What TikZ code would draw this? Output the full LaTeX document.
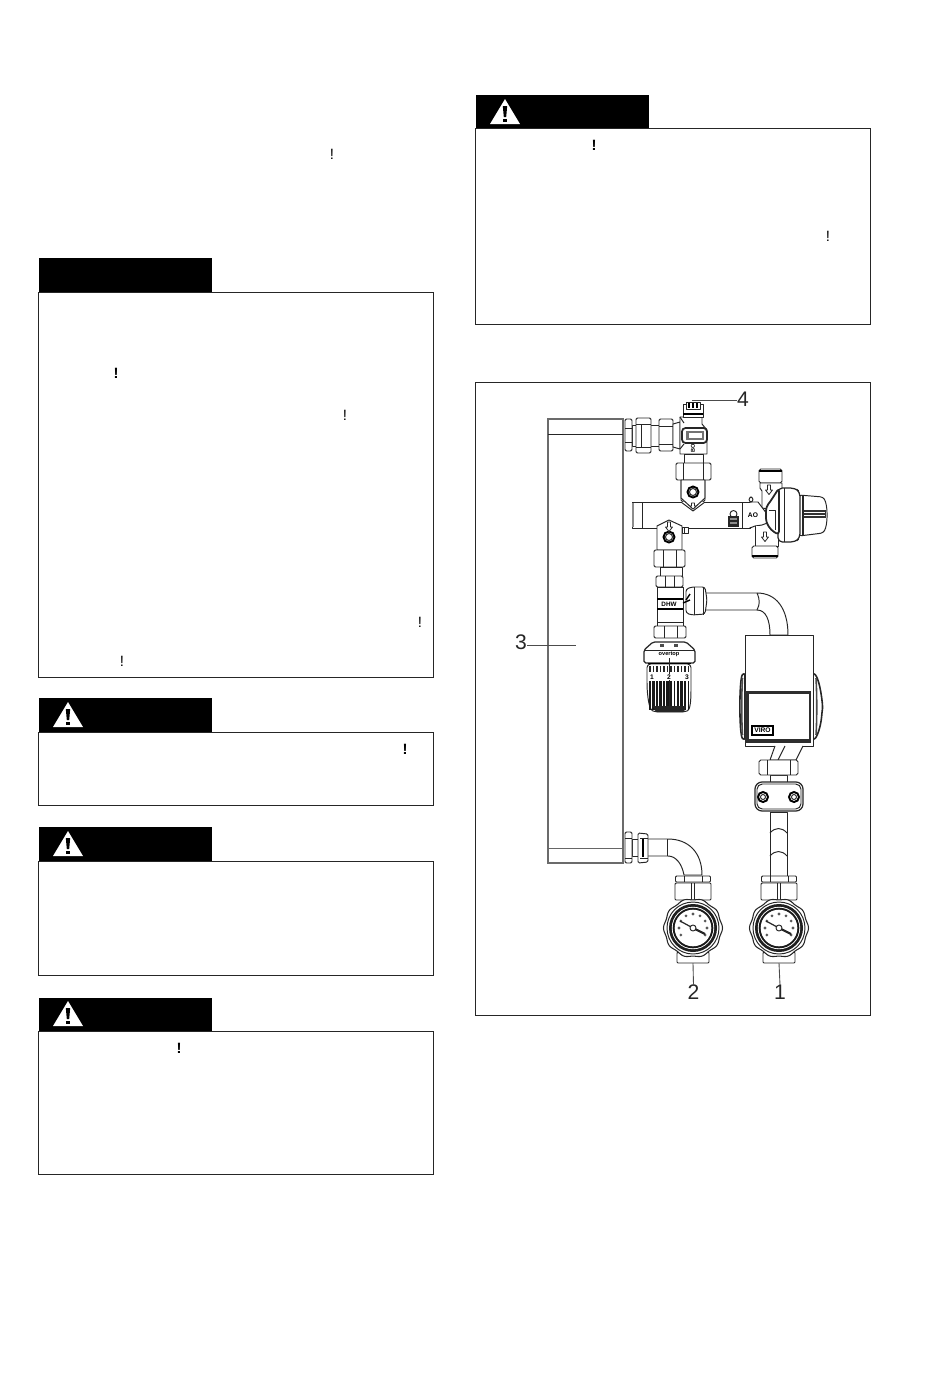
\documentclass[tikz,border=0pt]{standalone}
\usepackage{fontspec}
\setmainfont{Liberation Sans}
\tikzset{
  ln/.style={draw=black!85,line width=.55pt,line join=round},
  fw/.style={ln,fill=white},
  heavy/.style={draw=black!85,line width=1.3pt},
  box/.style={draw=black!85,line width=.5pt,fill=none},
  hdr/.style={fill=black,draw=none},
  excl/.style={font=\fontsize{8.5}{9}\selectfont,inner sep=0pt},
  exclb/.style={font=\fontsize{8.5}{9}\selectfont\bfseries,inner sep=0pt},
  numlab/.style={font=\fontsize{12}{13}\selectfont,inner sep=0pt,text=black!85},
  leader/.style={draw=black!70,line width=.5pt},
  tiny lab/.style={font=\fontsize{3.2}{3.5}\selectfont\bfseries,inner sep=0pt},
}
% warning triangle, apex at (#1,#2)
\newcommand{\warntri}[2]{%
  \begin{scope}[shift={(#1,#2)}]
    \fill[white] (0,0) -- (15,25) -- (-15,25) -- cycle;
    \fill[black] (-2.2,7) -- (2.2,7) -- (1.2,18) -- (-1.2,18) -- cycle;
    \fill[black] (-1.8,19.5) rectangle (1.8,23);
  \end{scope}}
% dial gauge centred at (#1,#2)
\newcommand{\gaugeunit}[2]{%
  \begin{scope}[shift={(#1,#2)}]
    \draw[fw,rounded corners=.6pt] (-17.5,-52) rectangle (17.5,-46);
    \draw[ln] (-9,-52) -- (-9,-46) (9,-52) -- (9,-46);
    \draw[fw,rounded corners=.6pt] (-18,-45) rectangle (18,-28);
    \draw[ln] (-1.5,-45) -- (-1.5,-28) (1.5,-45) -- (1.5,-28);
    \draw[fw,rounded corners=.6pt] (-16,24) rectangle (16,35);
    \draw[fw,line width=.6pt] plot[domain=0:360,samples=145,smooth]
      ({(28.8+.7*cos(10*\x))*cos(\x)},{(28.8+.7*cos(10*\x))*sin(\x)}) -- cycle;
    \draw[ln] (0,0) circle[radius=26];
    \fill[black!88] (0,0) circle[radius=24];
    \fill[white] (0,0) circle[radius=21.2];
    \fill[black!90] (0,0) circle[radius=20.3];
    \fill[white] (0,0) circle[radius=18.3];
    \foreach \a in {-210,-180,-150,-120,-90,-60,-30,0,30}{
      \fill[black!65] (\a:14) circle[radius=1.6];
    }
    \draw[black!85,line width=.7pt] (-13,-7) -- (0,0);
    \draw[black!85,line width=1.2pt] (0,0) -- (12,6);
    \draw[fw] (0,0) circle[radius=3];
  \end{scope}}
% outlined down arrow
\newcommand{\downarr}[2]{%
  \draw[fw,line width=.45pt,shift={(#1,#2)}] (-1.5,-5) -- (1.5,-5) -- (1.5,0) -- (3.5,0) -- (0,4.5) -- (-3.5,0) -- (-1.5,0) -- cycle;}
\begin{document}
\begin{tikzpicture}[x=0.02cm,y=-0.02cm]
\useasboundingbox (0,0) rectangle (950,1374);
\fill[white] (0,0) rectangle (950,1374);

% ---- left column frames
\fill[hdr] (38.5,258) rectangle (212,292);
\draw[box] (38.5,292) rectangle (433.5,677.5);
\fill[hdr] (38.5,698) rectangle (212,732);
\draw[box] (38.5,732) rectangle (433.5,805.5);
\warntri{68}{702}
\fill[hdr] (38.5,827) rectangle (212,861);
\draw[box] (38.5,861) rectangle (433.5,975.5);
\warntri{68}{831}
\fill[hdr] (38.5,998) rectangle (212,1031);
\draw[box] (38.5,1031) rectangle (433.5,1174.5);
\warntri{68}{1001}
% ---- right column frames
\fill[hdr] (475.5,95) rectangle (649,128);
\draw[box] (475.5,128) rectangle (870.5,324.5);
\warntri{505}{99}
\draw[box] (475.5,382) rectangle (870.5,1015.5);

% ---- stray exclamation marks
\node[excl] (e1) at (332,154.5) {!};
\node[exclb] (e2) at (116,373.5) {!};
\node[excl] (e3) at (345,415.5) {!};
\node[excl] (e4) at (420,622.5) {!};
\node[excl] (e5) at (122,661.5) {!};
\node[exclb] (e6) at (405,749.5) {!};
\node[exclb] (e7) at (594,145.5) {!};
\node[excl] (e8) at (828,236.5) {!};
\node[exclb] (e9) at (179,1048.5) {!};

% ---- radiator
\draw[draw=black!58,line width=.6pt] (548,419) rectangle (623,863);
\draw[ln] (548,434) -- (623,434);
\draw[draw=black!60,line width=.5pt] (548,848) -- (623,848);

% ---- top couplings
\draw[fw] (632,425) rectangle (659,446);
\draw[fw,rounded corners=.8pt] (625,419) rectangle (632,451);
\draw[ln] (625,428) -- (632,428) (625,442) -- (632,442);
\draw[fw,rounded corners=.8pt] (636,418) rectangle (651,453);
\draw[ln] (636,424) -- (651,424) (636,447) -- (651,447) (641,424) -- (641,447);
\draw[fw,rounded corners=.8pt] (659,419) rectangle (673,451);
\draw[ln] (659,426) -- (673,426) (659,444) -- (673,444);
\draw[fw] (673,424) -- (680,422) -- (680,449) -- (673,447) -- cycle;
% shut-off valve
\draw[fw] (684,417) -- (702,417) -- (702,424) -- (707,430) -- (707,454) -- (680,454) -- (680,417) -- cycle;
\draw[fw] (683,404) -- (703,404) -- (703,417) -- (683,417) -- cycle;
\draw[fw] (686,402) -- (700,402) -- (700,409) -- (686,409) -- cycle;
\foreach \q in {689,693,697}{\draw[black,line width=.9pt] (\q,403) -- (\q,408);}
\draw[black,line width=1pt] (683,414) -- (703,414);
\draw[fw,line width=1pt,rounded corners=2pt] (682,428) rectangle (707,443);
\fill[black!55] (686,431) rectangle (704,440);
\fill[white] (689,433) rectangle (702,438);
\node[tiny lab,rotate=90] (v1) at (693,448) {BO};
\draw[ln] (680,417) -- (684,423) (680,449) -- (684,444);
% vertical link to mixer
\draw[fw] (684,454) rectangle (703,463);
\draw[fw,rounded corners=.8pt] (676,463) rectangle (711,480);
\draw[ln] (683,463) -- (683,480) (703,463) -- (703,480);

% ---- manifold bar
\draw[fw] (632,502) -- (750,502) -- (750,528) -- (632,528) -- cycle;
\draw[ln] (642,502) -- (642,528);
\fill[black!45] (632,503) rectangle (634,527);
\draw[ln] (742,502) -- (742,528);
% upper tee
\draw[fw] (681,480) -- (705,480) -- (705,500) -- (693,510) -- (681,500) -- cycle;
\draw[fw] (681,502) -- (693,511) -- (705,502);
\fill[white] (682,500) -- (704,500) -- (693,508) -- cycle;
\draw[ln] (681,480) -- (681,498) -- (693,509) -- (705,498) -- (705,480);
\draw[black,line width=1.1pt,fill=white] (693,492) circle[radius=5.5];
\draw[ln] (693,492) circle[radius=3.5];
\draw[fw,line width=.4pt] (691.5,503) -- (694.5,503) -- (694.5,506) -- (696,506) -- (693,509) -- (690,506) -- (691.5,506) -- cycle;
% lower tee
\draw[ln,fill=white] (657,550) -- (657,526) -- (669,520) -- (682,526) -- (682,550) -- cycle;
\draw[black,line width=1.1pt,fill=white] (669,537) circle[radius=5.5];
\draw[ln] (669,537) circle[radius=3.5];
\downarr{669}{527}
\draw[fw,line width=.4pt] (682,527) rectangle (688,533);
\draw[ln] (684,527) -- (684,533);
% padlock mark
\draw[ln] (733.5,514) circle[radius=3.5];
\fill[black!85] (728,516) rectangle (739,527);
\fill[black!45] (730,518) rectangle (737,520);
\fill[black!45] (730,522) rectangle (737,524);

% ---- mixing valve
\draw[fw,rounded corners=1pt] (759,469) rectangle (782,483);
\draw[black,line width=1pt] (759,471) -- (782,471);
\draw[fw] (760,483) -- (760,488) -- (762,491) -- (762,508) -- (775,510) -- (782,490) -- (782,483) -- cycle;
\draw[fw] (750,502) -- (758,502) -- (767,514) -- (770,522) -- (762,525) -- (755,526) -- (750,528) -- cycle;
\draw[draw=white,line width=1pt] (750,503) -- (750,527);
\draw[ln] (755,526) -- (755,546) -- (778,546) -- (778,525);
\fill[white] (756,526) rectangle (777,545);
\draw[fw,rounded corners=1pt] (752,546) rectangle (778,558);
\draw[black,line width=1pt] (752,556) -- (778,556);
\downarr{769}{490}
\downarr{765}{537}
\draw[fw,rounded corners=1.5pt] (749,497) rectangle (753,502);
% handle
\draw[fw,rounded corners=1.5pt] (799,495) -- (823,497) .. controls (828,505) and (828,525) .. (823,533) -- (799,536) -- cycle;
\fill[black!80] (802,510) rectangle (826,518);
\draw[white,line width=.3pt] (803,512.5) -- (825,512.5) (803,515.5) -- (825,515.5);
\draw[heavy,line width=1pt] (803,495) -- (803,536);
\draw[fw,line width=.7pt,rounded corners=2.5pt] (778,488) -- (795,488) -- (800,492) -- (800,538) -- (795,542) -- (778,542) -- cycle;
\draw[ln] (784,488) -- (784,542);
\draw[fw,line width=1pt,rounded corners=2pt] (779,488) -- (770,502) -- (766,507) -- (766,522) -- (771,530) -- (779,535) -- cycle;
\draw[ln] (769,510) -- (775,510) -- (775,530);
\node[tiny lab,font=\fontsize{3.8}{4}\selectfont\bfseries] (ao) at (753,515) {AO};

% ---- lower valve & thermostatic head
\draw[fw,rounded corners=.8pt] (654,550) rectangle (685,567);
\draw[ln] (663,550) -- (663,567) (676,550) -- (676,567);
\draw[fw] (660,567) rectangle (682,576);
\draw[fw,rounded corners=.8pt] (656,576) rectangle (683,587);
\draw[ln] (665,576) -- (665,587) (674,576) -- (674,587);
\draw[fw] (657,587) rectangle (683,622);
\draw[black,line width=1.1pt] (657,599) -- (683,599) (657,609) -- (683,609);
\draw[ln] (657,622) -- (683,622);
\node[tiny lab,font=\fontsize{3.6}{4}\selectfont\bfseries] (dhw) at (669,604) {DHW};
% pipe to pump
\draw[fw] (700,593) -- (757,593) .. controls (776,593) and (788,608) .. (788,635) -- (770,635) .. controls (770,620) and (766,610) .. (757,610) -- (700,610) -- cycle;
\draw[ln] (757,593) .. controls (760,600) and (760,604) .. (757,610);
\draw[fw,rounded corners=1.5pt] (686,589) -- (692,587) -- (705,587) -- (707,600) -- (705,614) -- (692,615) -- (686,613) -- cycle;
\draw[ln] (694,587) -- (694,615) (703,587) -- (703,615);
\draw[black,line width=.8pt] (690,594) -- (686,600);
\draw[black,line width=.8pt] (683,603) -- (690,600);

% thermostatic head
\draw[fw] (657,622) rectangle (683,628);
\draw[fw,rounded corners=.8pt] (654,626) rectangle (686,638);
\draw[ln] (664,626) -- (664,638) (677,626) -- (677,638);
\draw[fw,rounded corners=2pt] (647,664) -- (691,664) -- (691,686) .. controls (691,702) and (690,710) .. (684,712) -- (656,712) .. controls (650,710) and (648,702) .. (647,686) -- cycle;
\foreach \q in {650,653.5,...,689}{\draw[black!85,line width=.9pt] (\q,666) -- (\q,672);}
\foreach \q/\w in {650/.8,653.5/1.4,657/1.4,660.5/1.4,664/1.1,667.5/1.4,671/1.4,674.5/1.1,678/1.4,681.5/1.4,685/1.4,688.5/.8}{\draw[black!90,line width=\w pt] (\q,681) -- (\q,710);}
\fill[black!85] (653,706) -- (686,706) -- (684,712) -- (656,712) -- cycle;
\node[tiny lab,font=\fontsize{3.8}{4}\selectfont\bfseries,inner sep=0pt] (h1) at (652,677) {1};
\node[tiny lab,font=\fontsize{3.8}{4}\selectfont\bfseries,inner sep=0pt] (h2) at (669,677) {2};
\node[tiny lab,font=\fontsize{3.8}{4}\selectfont\bfseries,inner sep=0pt] (h3) at (687,677) {3};
\draw[fw,line width=.7pt,rounded corners=1pt] (644,650) -- (653,642) -- (686,642) -- (695,650) -- (695,663) -- (644,663) -- cycle;
\draw[ln] (644,650) -- (695,650);
\draw[black,line width=.8pt] (648,663.5) -- (691,663.5);
\fill[black!70] (660,644) rectangle (664,647);
\fill[black!70] (674,644) rectangle (678,647);
\node[tiny lab] (h4) at (669,654) {overtop};
\draw[ln] (669,658) -- (669,674) (669,680) -- (669,708);

% ---- pump
\draw[fw,line width=.9pt,rounded corners=2pt] (745,672) .. controls (739,678) and (739,735) .. (745,741) -- cycle;
\draw[black!70,line width=.9pt] (742.5,678) .. controls (741.5,695) and (741.5,720) .. (742.5,735);
\draw[fw,line width=.9pt,rounded corners=2pt] (813,672) .. controls (820,680) and (823,705) .. (822,712) .. controls (821,725) and (818,735) .. (813,741) -- cycle;
\draw[black!70,line width=.9pt] (816,678) .. controls (817,695) and (817,720) .. (816,735);
\draw[fw] (745,635) rectangle (813,746);
% display window with its dark frame
\fill[black!82] (745,691) rectangle (811,743);
\fill[white] (748.5,693.5) rectangle (808.5,738.5);
\draw[ln] (813,691) -- (813,746);
\draw[black,line width=.9pt,fill=white] (752,726) rectangle (773,735);
\node[tiny lab,font=\fontsize{3.8}{4}\selectfont\bfseries] (logo) at (762.5,730.5) {VIRO};

% ---- below the pump
\draw[fw] (775,746) -- (770,760) -- (796,760) -- (803,746);
\draw[ln] (785,746) -- (778,760);
\draw[fw] (770,775) rectangle (787,783);
\draw[fw,rounded corners=1pt] (759,760) -- (798,760) -- (798,775) -- (759,775) -- cycle;
\draw[ln] (767,760) -- (767,775) (790,760) -- (790,775);
% clamp
\draw[fw,line width=.7pt,rounded corners=4pt] (755,782) rectangle (803,811);
\draw[ln,rounded corners=3pt] (757,784) rectangle (801,809);
\draw[black,line width=1.1pt,fill=white] (763,797) circle[radius=5];
\draw[ln] (763,797) circle[radius=2.5];
\draw[black,line width=1.1pt,fill=white] (794,797) circle[radius=5];
\draw[ln] (794,797) circle[radius=2.5];

% ---- pipe down to gauge 1
\draw[fw] (770,812) rectangle (787,876);
\draw[ln] (770,833) .. controls (775,827) and (782,827) .. (787,833);
\draw[ln] (770,856) .. controls (775,850) and (782,850) .. (787,856);

% ---- lower radiator elbow
\draw[fw] (640,839) -- (668,839) .. controls (688,839) and (702,852) .. (702,875) -- (684,875) .. controls (682,864) and (676,856) .. (668,856) -- (640,856) -- cycle;
\draw[ln] (667,839) -- (667,856);
\draw[fw] (632,839) rectangle (638,856);
\draw[fw,rounded corners=.8pt] (625,832) rectangle (632,863);
\draw[ln] (625,838) -- (632,838) (625,858) -- (632,858);
\draw[fw,rounded corners=.8pt] (638,833) -- (648,834) -- (648,862) -- (638,863) -- cycle;
\draw[black,line width=1pt] (643,838) -- (643,857);
\draw[ln] (640,838) -- (648,838) (640,858) -- (648,858);

% ---- gauges
\gaugeunit{693}{928}
\gaugeunit{779}{928}

% ---- reference numbers
\node[numlab] (n1) at (780,992.5) {1};
\node[numlab] (n2) at (693.5,992.5) {2};
\node[numlab] (n3) at (521,642) {3};
\node[numlab] (n4) at (743,399.5) {4};
\coordinate (t1) at (779,963);
\coordinate (t2) at (693,963);
\coordinate (t3) at (576,645);
\coordinate (t4) at (692,400.5);
\draw[leader] (n1.north) -- (t1);
\draw[leader] (n2.north) -- (t2);
\draw[leader] (n3.east |- t3) -- (t3);
\draw[leader] (n4.west |- t4) -- (t4);
\end{tikzpicture}
\end{document}
